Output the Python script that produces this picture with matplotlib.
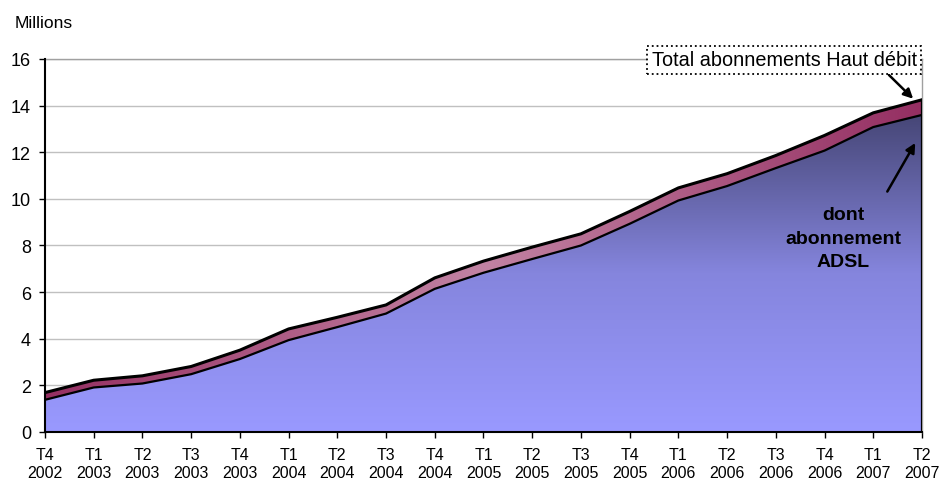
import numpy as np
import matplotlib
matplotlib.use('Agg')
import matplotlib.pyplot as plt
from matplotlib.colors import LinearSegmentedColormap
from matplotlib.patches import Polygon

plt.rcParams['font.family'] = ['Liberation Sans', 'DejaVu Sans']

labels = ['T4\n2002', 'T1\n2003', 'T2\n2003', 'T3\n2003', 'T4\n2003',
          'T1\n2004', 'T2\n2004', 'T3\n2004', 'T4\n2004',
          'T1\n2005', 'T2\n2005', 'T3\n2005', 'T4\n2005',
          'T1\n2006', 'T2\n2006', 'T3\n2006', 'T4\n2006',
          'T1\n2007', 'T2\n2007']
# millions d'abonnements
total = [1.69, 2.22, 2.41, 2.81, 3.51, 4.42, 4.92, 5.45, 6.61,
         7.33, 7.93, 8.50, 9.46, 10.47, 11.08, 11.86, 12.72, 13.69, 14.25]
adsl = [1.38, 1.91, 2.08, 2.48, 3.13, 3.94, 4.50, 5.08, 6.14,
        6.83, 7.42, 8.00, 8.93, 9.93, 10.55, 11.32, 12.07, 13.08, 13.60]

x = np.arange(len(labels))
total = np.array(total)
adsl = np.array(adsl)

fig = plt.figure(figsize=(9.43, 4.81), dpi=100)
ax = fig.add_axes([0.0477, 0.0998, 0.930, 0.7755])

# blue area, vertical gradient
blue_cmap = LinearSegmentedColormap.from_list('blue', ['#9999ff', '#8585dd', '#464676'])
verts = np.column_stack([np.r_[x, x[::-1]], np.r_[adsl, np.zeros_like(adsl)]])
blue_patch = Polygon(verts, closed=True, facecolor='none', edgecolor='none')
ax.add_patch(blue_patch)
grad = np.linspace(0, 1, 256).reshape(-1, 1)
im = ax.imshow(grad, cmap=blue_cmap, extent=[0, x[-1], 0, adsl.max()],
               origin='lower', aspect='auto', zorder=1)
im.set_clip_path(blue_patch)

# magenta band, horizontal gradient
mag_cmap = LinearSegmentedColormap.from_list('mag', ['#952f62', '#c283a3', '#952f62'])
verts2 = np.column_stack([np.r_[x, x[::-1]], np.r_[total, adsl[::-1]]])
mag_patch = Polygon(verts2, closed=True, facecolor='none', edgecolor='none')
ax.add_patch(mag_patch)
hgrad = np.linspace(0, 1, 256).reshape(1, -1)
im2 = ax.imshow(hgrad, cmap=mag_cmap, extent=[0, x[-1], 0, total.max()],
                origin='lower', aspect='auto', zorder=1)
im2.set_clip_path(mag_patch)

ax.plot(x, total, color='black', lw=2.2, zorder=3, solid_joinstyle='round')
ax.plot(x, adsl, color='black', lw=1.6, zorder=3, solid_joinstyle='round')
ax.plot([x[-1], x[-1]], [0, total[-1]], color='black', lw=1.6, zorder=3)

ax.set_xlim(0, x[-1])
ax.set_ylim(0, 16)
ax.set_yticks(np.arange(0, 17, 2))
ax.set_xticks(x)
ax.set_xticklabels(labels, fontsize=11.5, linespacing=1.25)
ax.tick_params(axis='y', labelsize=13, length=4, width=1, pad=6)
ax.tick_params(axis='x', length=4, width=1, pad=7)
ax.yaxis.grid(True, color='#c0c0c0', lw=1, zorder=0)
ax.set_axisbelow(True)

for s in ['left', 'bottom']:
    ax.spines[s].set_linewidth(1.5)
    ax.spines[s].set_color('black')
    ax.spines[s].set_zorder(4)
for s in ['top', 'right']:
    ax.spines[s].set_color('#a0a0a0')
    ax.spines[s].set_linewidth(1)

fig.text(0.015, 0.952, 'Millions', fontsize=12.5, ha='left', va='center')

ax.text(15.17, 15.97, 'Total abonnements Haut débit', fontsize=14.3, ha='center', va='center',
        zorder=6, bbox=dict(boxstyle='square,pad=0.22', fc='white', ec='black', ls=':', lw=1.3))

ax.annotate('', xy=(17.86, 14.21), xytext=(17.28, 15.40),
            arrowprops=dict(arrowstyle='-|>', color='black', lw=1.8, mutation_scale=14),
            zorder=5)
ax.annotate('', xy=(17.89, 12.50), xytext=(17.26, 10.21),
            arrowprops=dict(arrowstyle='-|>', color='black', lw=1.8, mutation_scale=14),
            zorder=5)

ax.text(16.38, 8.32, 'dont\nabonnement\nADSL', fontsize=14, fontweight='bold',
        ha='center', va='center', linespacing=1.5, zorder=5)

fig.savefig('out.png', dpi=100)
